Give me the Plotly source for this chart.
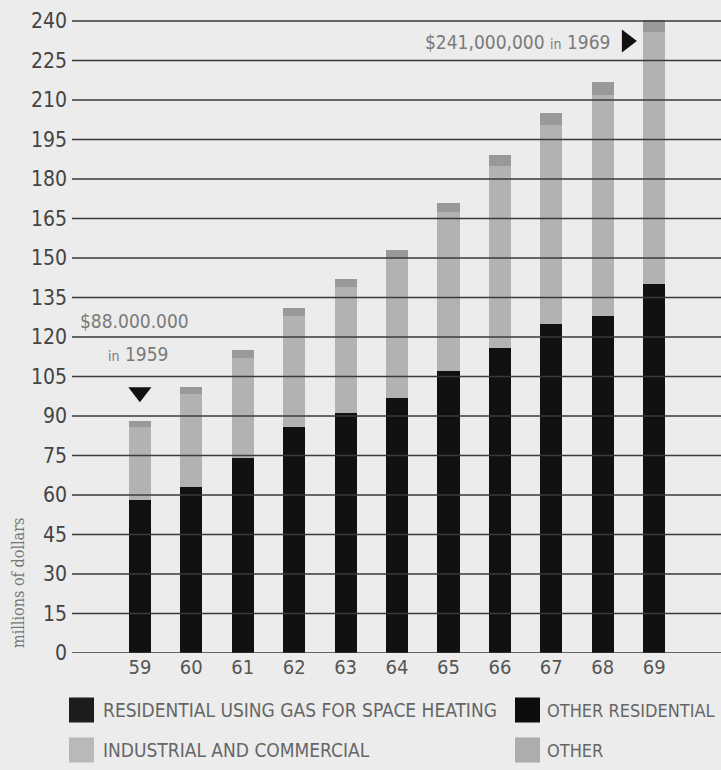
import plotly.graph_objects as go

# Gas sales revenue by customer class, 1959-1969 (millions of dollars)
years = [59, 60, 61, 62, 63, 64, 65, 66, 67, 68, 69]
residential = [58, 63, 74, 86, 91, 97, 107, 116, 125, 128, 140]
industrial_commercial = [28, 35.5, 38, 42, 48, 53, 60.5, 69, 75.5, 84, 96]
other = [2, 2.5, 3, 3, 3, 3, 3.5, 4, 4.5, 5, 5]
y_ticks = list(range(0, 241, 15))

legend_rows = [
    ("RESIDENTIAL USING GAS FOR SPACE HEATING", "#1c1c1c", 0),
    ("OTHER RESIDENTIAL", "#0d0d0d", 1),
    ("INDUSTRIAL AND COMMERCIAL", "#b9b9b9", 0),
    ("OTHER", "#adadad", 1),
]

FONT = "DejaVu Sans Condensed, DejaVu Sans, sans-serif"
BG = "#ececec"

# page layout (pixels)
W, H = 721, 770
L, R, T, B = 72, 0, 20, 117
PW, PH = W - L - R, H - T - B


def px(x):
    return (x - L) / PW


def py(y):
    return (H - B - y) / PH


fig = go.Figure()
fig.add_bar(x=years, y=residential, marker=dict(color="#111111", line=dict(width=0)),
            width=0.43, name="Residential")
fig.add_bar(x=years, y=industrial_commercial, marker=dict(color="#b2b2b2", line=dict(width=0)),
            width=0.43, name="Industrial and commercial")
fig.add_bar(x=years, y=other, marker=dict(color="#999999", line=dict(width=0)),
            width=0.43, name="Other")

# pointer markers for the first and last totals
fig.add_scatter(x=[59], y=[99], mode="markers",
                marker=dict(symbol="triangle-down", size=20, color="#111111"),
                hoverinfo="skip")
fig.add_scatter(x=[68.47], y=[232.4], mode="markers",
                marker=dict(symbol="triangle-right", size=20, color="#111111"),
                hoverinfo="skip")

total_first = residential[0] + industrial_commercial[0] + other[0]
total_last = residential[-1] + industrial_commercial[-1] + other[-1]

NOTE = dict(family=FONT, size=19, color="#7a7a7a")
fig.add_annotation(x=58.9, y=125.9, xref="x", yref="y",
                   text=f"${total_first:,.0f},000,000".replace(",", "."), showarrow=False,
                   font=NOTE)
fig.add_annotation(x=58.97, y=113.7, xref="x", yref="y",
                   text="<span style='font-size:14px'>in</span> 1959", showarrow=False,
                   font=NOTE)
fig.add_annotation(x=68.18, y=232.2, xref="x", yref="y", xanchor="right",
                   text=f"${total_last:,.0f},000,000 <span style='font-size:14px'>in</span> 1969",
                   showarrow=False, font=NOTE)

fig.add_annotation(x=px(18), y=py(583), xref="paper", yref="paper", text="millions of dollars",
                   textangle=-90, showarrow=False, xanchor="center", yanchor="middle",
                   font=dict(family="DejaVu Serif Condensed, DejaVu Serif, serif", size=16,
                             color="#777777"))

# gridlines drawn over the bars
for v in y_ticks:
    fig.add_shape(type="line", xref="paper", yref="y", x0=0, x1=1, y0=v, y1=v,
                  line=dict(color="#3a3a3a", width=1.5), layer="above")

# legend swatches and labels
swatch_x = [69, 515]
text_x = [103, 547]
text_size = [19, 18]
row_y = [710, 750]
for i, (label, color, col) in enumerate(legend_rows):
    row = i // 2
    y0 = row_y[row]
    fig.add_shape(type="rect", xref="paper", yref="paper",
                  x0=px(swatch_x[col]), x1=px(swatch_x[col] + 25),
                  y0=py(y0 + 12.5), y1=py(y0 - 12.5),
                  fillcolor=color, line=dict(width=0))
    fig.add_annotation(x=px(text_x[col]), y=py(y0), xref="paper", yref="paper",
                       xanchor="left", yanchor="middle", text=label, showarrow=False,
                       xshift=-2,
                       font=dict(family=FONT, size=text_size[col], color="#666666"))

fig.update_layout(
    width=W, height=H,
    barmode="stack",
    showlegend=False,
    paper_bgcolor=BG, plot_bgcolor=BG,
    margin=dict(l=L, r=R, t=T, b=B),
    font=dict(family=FONT, color="#555555"),
    xaxis=dict(range=[57.68, 70.3], tickvals=years, ticktext=[str(y) for y in years],
               showgrid=False, zeroline=False, showline=False, ticks="",
               tickfont=dict(family=FONT, size=20, color="#555555")),
    yaxis=dict(range=[0, 240.4], tickvals=y_ticks, showgrid=False,
               zeroline=False, showline=False, ticks="", ticklabelstandoff=4,
               tickfont=dict(family=FONT, size=21, color="#444444")),
)

fig.write_html("out.html")
